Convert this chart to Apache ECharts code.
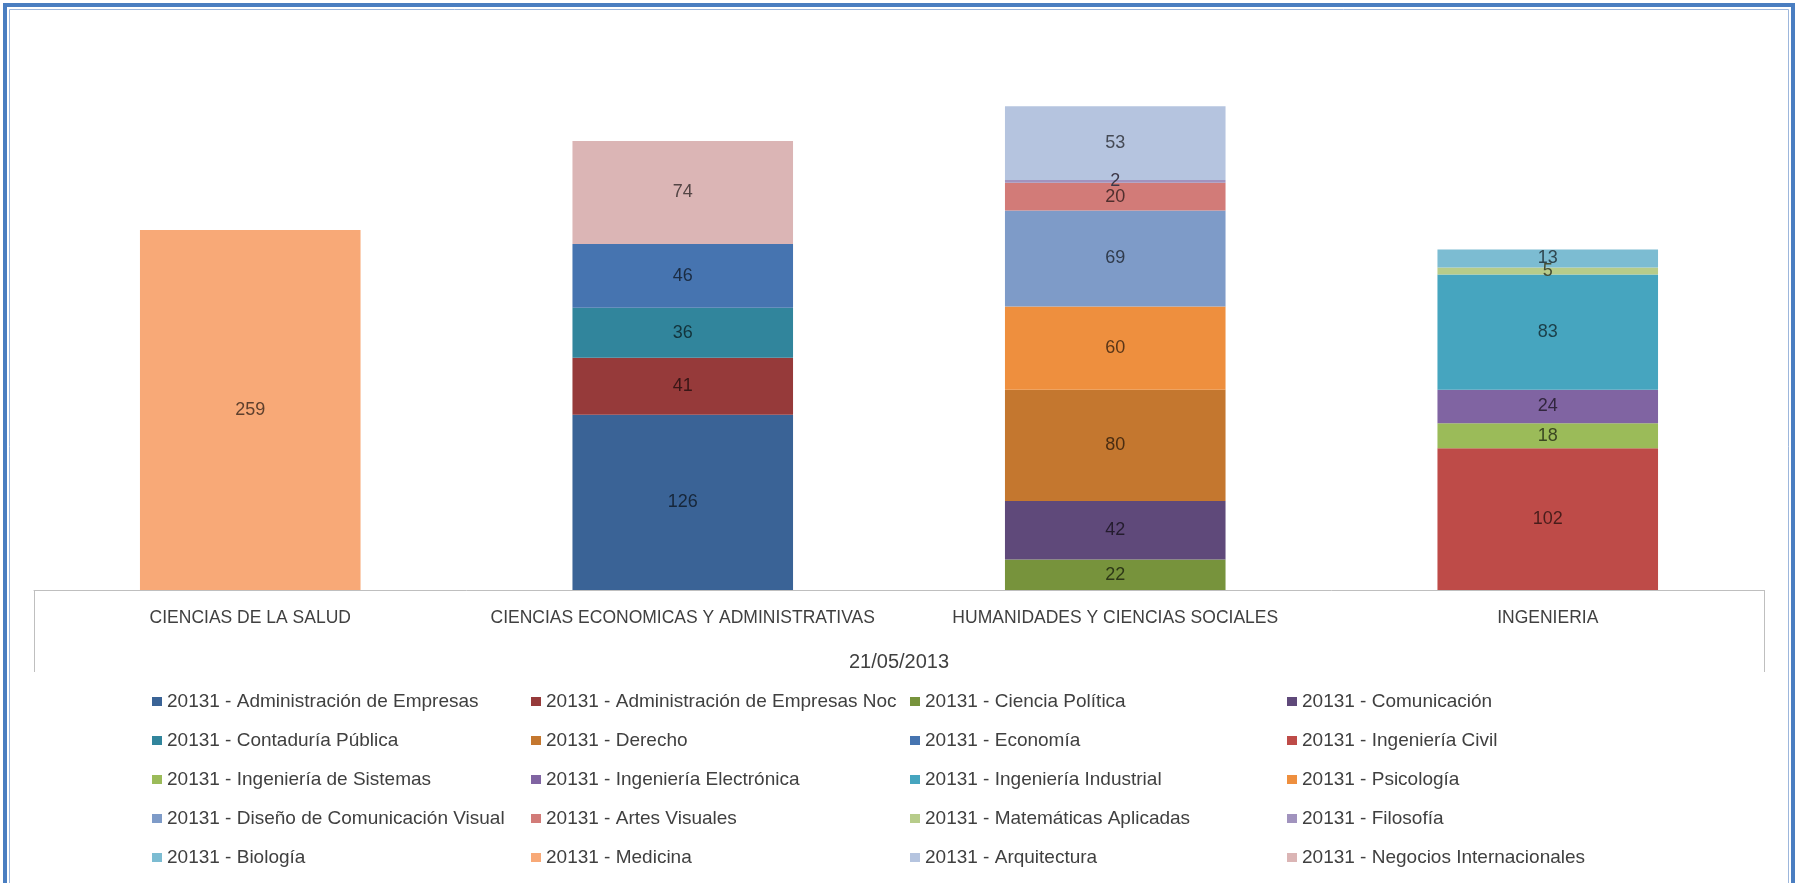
<!DOCTYPE html>
<html>
<head>
<meta charset="utf-8">
<script src="https://cdn.jsdelivr.net/npm/echarts@6/dist/echarts.min.js"></script>
<style>
html,body{margin:0;padding:0;background:#fff;}
#chart{width:1799px;height:883px;}
</style>
</head>
<body>
<div id="chart"></div>
<script>
// ---- DATA ----
const categories = ['CIENCIAS DE LA SALUD', 'CIENCIAS ECONOMICAS Y ADMINISTRATIVAS', 'HUMANIDADES Y CIENCIAS SOCIALES', 'INGENIERIA'];
const dateLabel = '21/05/2013';
const seriesNames = [
  '20131 - Administración de Empresas',
  '20131 - Administración de Empresas Noc',
  '20131 - Ciencia Política',
  '20131 - Comunicación',
  '20131 - Contaduría Pública',
  '20131 - Derecho',
  '20131 - Economía',
  '20131 - Ingeniería Civil',
  '20131 - Ingeniería de Sistemas',
  '20131 - Ingeniería Electrónica',
  '20131 - Ingeniería Industrial',
  '20131 - Psicología',
  '20131 - Diseño de Comunicación Visual',
  '20131 - Artes Visuales',
  '20131 - Matemáticas Aplicadas',
  '20131 - Filosofía',
  '20131 - Biología',
  '20131 - Medicina',
  '20131 - Arquitectura',
  '20131 - Negocios Internacionales'
];
const administracionEmpresas    = [0, 126, 0, 0];
const administracionEmpresasNoc = [0, 41, 0, 0];
const cienciaPolitica           = [0, 0, 22, 0];
const comunicacion              = [0, 0, 42, 0];
const contaduriaPublica         = [0, 36, 0, 0];
const derecho                   = [0, 0, 80, 0];
const economia                  = [0, 46, 0, 0];
const ingenieriaCivil           = [0, 0, 0, 102];
const ingenieriaSistemas        = [0, 0, 0, 18];
const ingenieriaElectronica     = [0, 0, 0, 24];
const ingenieriaIndustrial      = [0, 0, 0, 83];
const psicologia                = [0, 0, 60, 0];
const disenoComunicacionVisual  = [0, 0, 69, 0];
const artesVisuales             = [0, 0, 20, 0];
const matematicasAplicadas      = [0, 0, 0, 5];
const filosofia                 = [0, 0, 2, 0];
const biologia                  = [0, 0, 0, 13];
const medicina                  = [259, 0, 0, 0];
const arquitectura              = [0, 0, 53, 0];
const negociosInternacionales   = [0, 74, 0, 0];

const seriesValues = [
  administracionEmpresas, administracionEmpresasNoc, cienciaPolitica, comunicacion,
  contaduriaPublica, derecho, economia, ingenieriaCivil,
  ingenieriaSistemas, ingenieriaElectronica, ingenieriaIndustrial, psicologia,
  disenoComunicacionVisual, artesVisuales, matematicasAplicadas, filosofia,
  biologia, medicina, arquitectura, negociosInternacionales
];

// ---- STYLE ----
const colors = [
  '#3A6396', '#963A3A', '#77933C', '#5F497A',
  '#31859C', '#C4772F', '#4674B0', '#BE4B48',
  '#9BBB59', '#8064A2', '#46A5BF', '#EE8F3E',
  '#7E9BC8', '#D27B78', '#B7CC8A', '#A193BE',
  '#7CBCD2', '#F8A977', '#B5C4DF', '#DBB5B5'
];
function darken(hex, f) {
  const n = parseInt(hex.slice(1), 16);
  const r = Math.round(((n >> 16) & 255) * f), g = Math.round(((n >> 8) & 255) * f), b = Math.round((n & 255) * f);
  return 'rgb(' + r + ',' + g + ',' + b + ')';
}
const FONT = "'Liberation Sans', Arial, sans-serif";
const TXT = '#404040';

const series = seriesNames.map((name, i) => ({
  name: name,
  type: 'bar',
  stack: 'total',
  barWidth: '51%',
  data: seriesValues[i],
  itemStyle: { color: colors[i] },
  label: {
    show: true,
    position: 'inside',
    color: darken(colors[i], 0.38),
    fontFamily: FONT,
    fontSize: 18,
    formatter: p => (p.value ? String(p.value) : '')
  },
  emphasis: { disabled: true }
}));

const legendCols = [147, 526, 905, 1282];
const legends = legendCols.map((x, c) => ({
  orient: 'vertical',
  left: x,
  top: 686,
  itemWidth: 10,
  itemHeight: 9,
  itemGap: 18,
  icon: 'rect',
  selectedMode: false,
  data: seriesNames.filter((_, i) => i % 4 === c),
  textStyle: { fontFamily: FONT, fontSize: 19, color: TXT, lineHeight: 21 }
}));

const chart = echarts.init(document.getElementById('chart'), null, { renderer: 'canvas' });
chart.setOption({
  animation: false,
  backgroundColor: '#fff',
  color: colors,
  grid: { left: 34, right: 35, top: 34, bottom: 293, containLabel: false },
  xAxis: {
    type: 'category',
    data: categories,
    axisLine: { show: true, lineStyle: { color: '#BFBFBF', width: 1 } },
    axisTick: { show: false },
    axisLabel: { fontFamily: FONT, fontSize: 17.5, color: TXT, margin: 19, interval: 0 },
    name: dateLabel,
    nameLocation: 'middle',
    nameGap: 62,
    nameTextStyle: { fontFamily: FONT, fontSize: 20, color: TXT }
  },
  yAxis: { type: 'value', min: 0, max: 400, show: false, splitLine: { show: false } },
  legend: legends,
  series: series,
  graphic: [
    { type: 'rect', shape: { x: 5, y: 5, width: 1788, height: 900 }, style: { fill: 'none', stroke: '#4A7EC1', lineWidth: 4 }, silent: true },
    { type: 'rect', shape: { x: 9.5, y: 9.5, width: 1779, height: 900 }, style: { fill: 'none', stroke: '#9DB7DC', lineWidth: 1 }, silent: true },
    { type: 'line', shape: { x1: 34.5, y1: 590, x2: 34.5, y2: 672 }, style: { stroke: '#BFBFBF', lineWidth: 1 }, silent: true },
    { type: 'line', shape: { x1: 1764.5, y1: 590, x2: 1764.5, y2: 672 }, style: { stroke: '#BFBFBF', lineWidth: 1 }, silent: true }
  ]
});
</script>
</body>
</html>
